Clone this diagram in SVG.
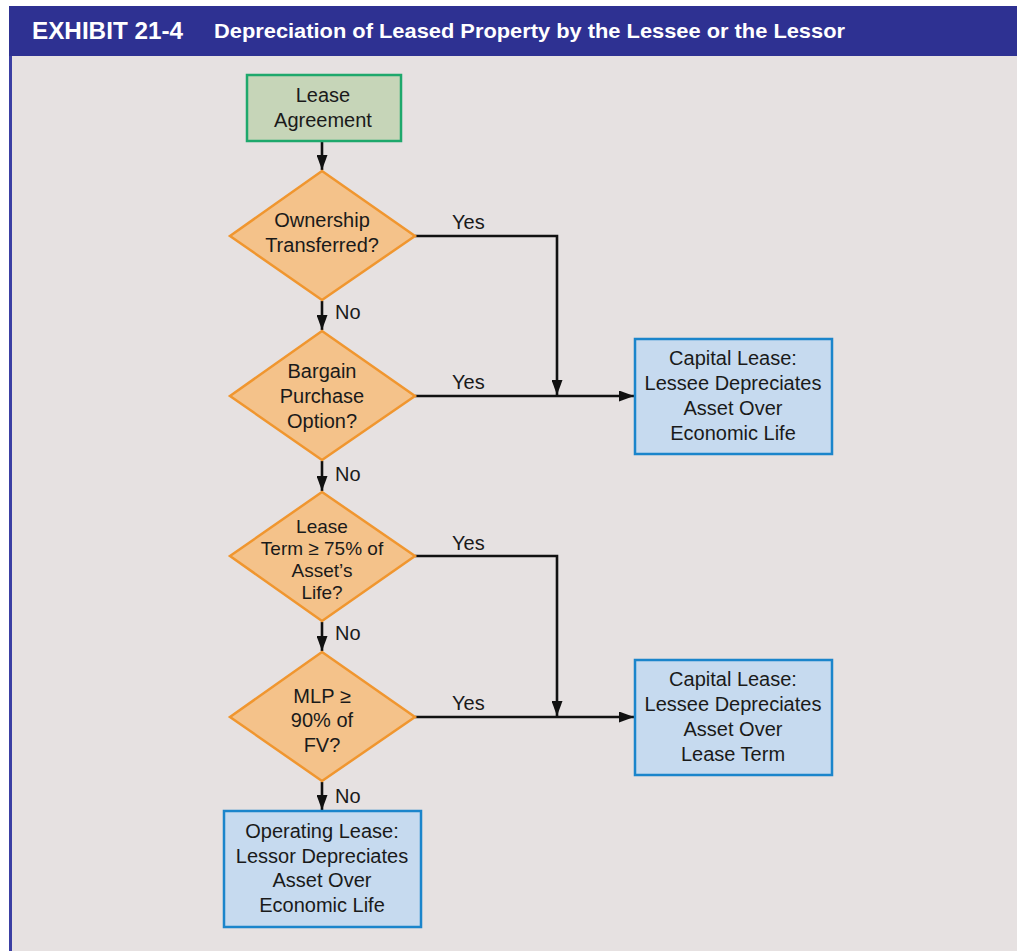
<svg xmlns="http://www.w3.org/2000/svg" width="1017" height="951" viewBox="0 0 1017 951">
<defs>
<marker id="arr" viewBox="0 0 15 11" refX="15" refY="5.5" markerWidth="15" markerHeight="11" markerUnits="userSpaceOnUse" orient="auto">
<path d="M0,0 L15,5.5 L0,11 z" fill="#111"/>
</marker>
</defs>
<style>
text{font-family:"Liberation Sans",Arial,sans-serif;font-size:20px;fill:#1a1a1a;text-anchor:middle}
.lbl{text-anchor:start}
.start{fill:#c6d5b8;stroke:#1ea86c;stroke-width:2.5}
.dec{fill:#f4c28a;stroke:#f0962f;stroke-width:2.5}
.res{fill:#c6daef;stroke:#1b85cb;stroke-width:2.5}
.con{fill:none;stroke:#111;stroke-width:2.6}
.title{fill:#fff;font-weight:bold;text-anchor:start}
</style>
<rect x="0" y="0" width="1017" height="951" fill="#ffffff"/>
<rect x="9" y="6" width="1008" height="50" fill="#2e3192"/>
<rect x="9" y="56" width="1008" height="895" fill="#e6e1e1"/>
<rect x="9" y="56" width="3" height="895" fill="#3b3fa3"/>
<text class="title" x="32" y="39" style="font-size:24px" textLength="151" lengthAdjust="spacingAndGlyphs">EXHIBIT 21-4</text>
<text class="title" x="214" y="38" style="font-size:21px" textLength="631" lengthAdjust="spacingAndGlyphs">Depreciation of Leased Property by the Lessee or the Lessor</text>

<g id="connectors">
<line class="con" x1="322" y1="142" x2="322" y2="170" marker-end="url(#arr)"/>
<line class="con" x1="322" y1="301" x2="322" y2="330" marker-end="url(#arr)"/>
<line class="con" x1="322" y1="461" x2="322" y2="491" marker-end="url(#arr)"/>
<line class="con" x1="322" y1="622" x2="322" y2="651" marker-end="url(#arr)"/>
<line class="con" x1="322" y1="782" x2="322" y2="810" marker-end="url(#arr)"/>
<polyline class="con" points="415,236 557,236 557,395" marker-end="url(#arr)"/>
<line class="con" x1="415" y1="396" x2="634" y2="396" marker-end="url(#arr)"/>
<polyline class="con" points="415,556 557,556 557,716" marker-end="url(#arr)"/>
<line class="con" x1="415" y1="717" x2="634" y2="717" marker-end="url(#arr)"/>
<text class="lbl" x="452" y="229">Yes</text>
<text class="lbl" x="452" y="389">Yes</text>
<text class="lbl" x="452" y="550">Yes</text>
<text class="lbl" x="452" y="710">Yes</text>
<text class="lbl" x="335" y="319">No</text>
<text class="lbl" x="335" y="481">No</text>
<text class="lbl" x="335" y="640">No</text>
<text class="lbl" x="335" y="803">No</text>
</g>

<g id="lease-agreement">
<rect class="start" x="247" y="75" width="154" height="66"/>
<text x="323" y="102">Lease</text>
<text x="323" y="127">Agreement</text>
</g>

<g id="ownership">
<polygon class="dec" points="322,171 415,236 322,300 230,236"/>
<text x="322" y="227">Ownership</text>
<text x="322" y="252">Transferred?</text>
</g>

<g id="bargain">
<polygon class="dec" points="322,331 415,396 322,460 230,396"/>
<text x="322" y="378">Bargain</text>
<text x="322" y="403">Purchase</text>
<text x="322" y="428">Option?</text>
</g>

<g id="lease-term">
<polygon class="dec" points="322,492 415,556 322,621 230,556"/>
<text x="322" y="533" style="font-size:19px">Lease</text>
<text x="322" y="555" style="font-size:19px">Term ≥ 75% of</text>
<text x="322" y="577" style="font-size:19px">Asset’s</text>
<text x="322" y="599" style="font-size:19px">Life?</text>
</g>

<g id="mlp">
<polygon class="dec" points="322,652 415,717 322,781 230,717"/>
<text x="322" y="703">MLP ≥</text>
<text x="322" y="727">90% of</text>
<text x="322" y="752">FV?</text>
</g>

<g id="capital-economic">
<rect class="res" x="635" y="339" width="197" height="115"/>
<text x="733" y="365">Capital Lease:</text>
<text x="733" y="390">Lessee Depreciates</text>
<text x="733" y="415">Asset Over</text>
<text x="733" y="440">Economic Life</text>
</g>

<g id="capital-term">
<rect class="res" x="635" y="660" width="197" height="115"/>
<text x="733" y="686">Capital Lease:</text>
<text x="733" y="711">Lessee Depreciates</text>
<text x="733" y="736">Asset Over</text>
<text x="733" y="761">Lease Term</text>
</g>

<g id="operating">
<rect class="res" x="224" y="811" width="197" height="116"/>
<text x="322" y="838">Operating Lease:</text>
<text x="322" y="863">Lessor Depreciates</text>
<text x="322" y="887">Asset Over</text>
<text x="322" y="912">Economic Life</text>
</g>
</svg>
